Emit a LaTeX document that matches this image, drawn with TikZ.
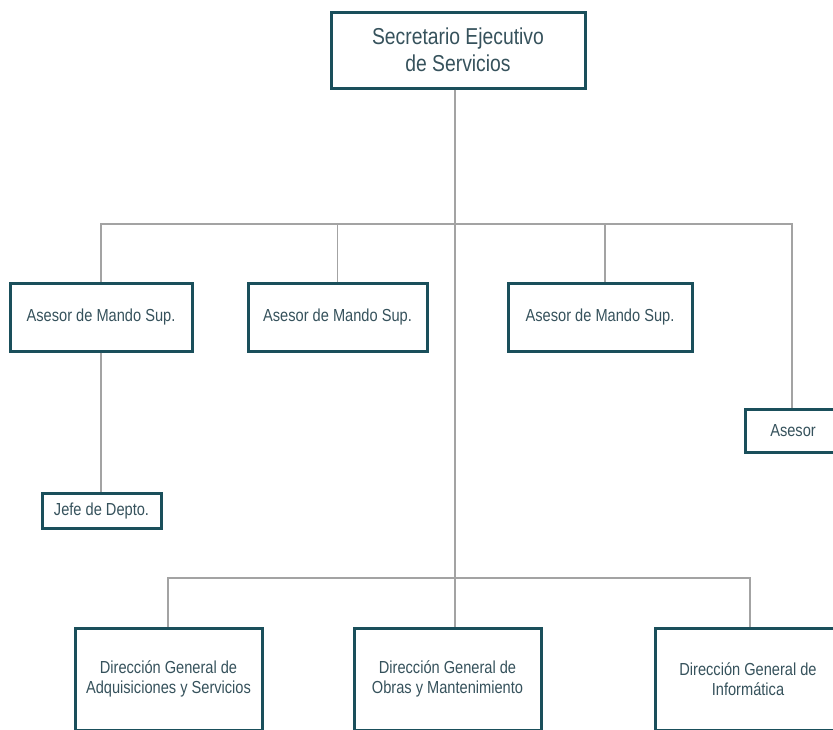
\documentclass[tikz,border=0pt]{standalone}
\usepackage{fontspec}
\setmainfont[FakeStretch=0.84]{Liberation Sans}
\definecolor{boxc}{HTML}{1A4F5B}
\definecolor{txtc}{HTML}{36525C}
\definecolor{linec}{HTML}{A3A3A3}
\begin{document}
\begin{tikzpicture}[x=1pt,y=-1pt,
  box/.style={draw=boxc, line width=3pt, fill=white, text=txtc, align=center, inner sep=0pt, font=\fontsize{17.4}{20.5}\selectfont},
  conn/.style={draw=linec, line width=1.3pt}]
\useasboundingbox (0,0) rectangle (833,729);
\clip (0,0) rectangle (833,729);
\fill[white] (0,0) rectangle (833,729);
% nodes
\node[box, minimum width=254pt, minimum height=76pt, font=\fontsize{23}{27}\selectfont] (top) at (458,50) {Secretario Ejecutivo\\de Servicios};
\node[box, minimum width=182pt, minimum height=68pt] (a1) at (101,317) {Asesor de Mando Sup.};
\node[box, minimum width=179pt, minimum height=68pt] (a2) at (337.5,317) {Asesor de Mando Sup.};
\node[box, minimum width=184pt, minimum height=68pt] (a3) at (600,317) {Asesor de Mando Sup.};
\node[box, minimum width=96pt, minimum height=43pt] (as) at (793,430.5) {Asesor};
\node[box, minimum width=119pt, minimum height=35pt] (jefe) at (101.5,510.5) {Jefe de Depto.};
\node[box, minimum width=187pt, minimum height=102pt] (d1) at (168.5,679) {Dirección General de\\Adquisiciones y Servicios};
\node[box, minimum width=187pt, minimum height=102pt] (d2) at (447.5,679) {Dirección General de\\Obras y Mantenimiento};
\node[box, minimum width=186pt, minimum height=102pt] (d3) at (748,679) {Dirección General de\\Informática};
% connector points
\coordinate (h1) at (455,224);
\coordinate (h2) at (455,578);
\coordinate (hl) at (101,224);
\coordinate (hr) at (792,224);
\coordinate (v3) at (605,224);
\coordinate (bl) at (168,578);
\coordinate (br) at (750,578);
% connectors
\draw[conn] (h1 |- top.south) -- (h1 |- d2.north);
\draw[conn] (hl |- a1.north) -- (hl) -- (hr) -- (hr |- as.north);
\draw[conn] (a2.north) -- (a2.north |- h1);
\draw[conn] (v3) -- (v3 |- a3.north);
\draw[conn] (a1.south) -- (a1.south |- jefe.north);
\draw[conn] (bl |- d1.north) -- (bl) -- (br) -- (br |- d3.north);
\end{tikzpicture}
\end{document}
